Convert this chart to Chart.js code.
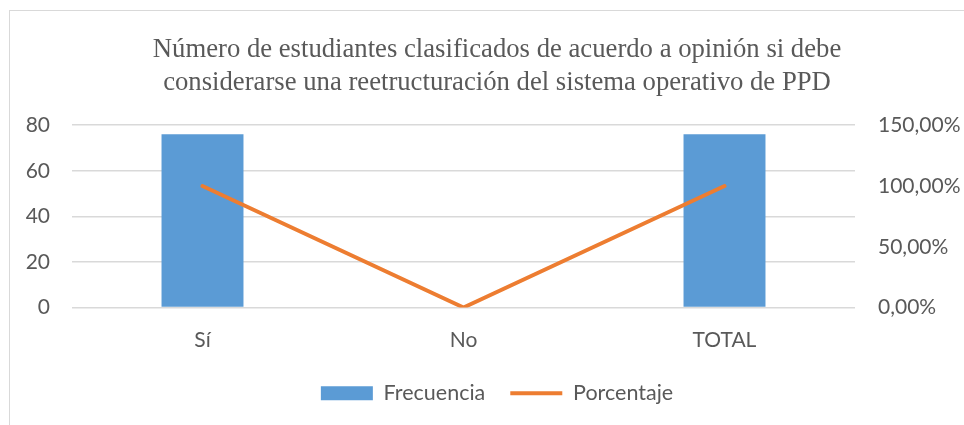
<!DOCTYPE html>
<html>
<head>
<meta charset="utf-8">
<script src="https://cdn.jsdelivr.net/npm/chart.js@4.4.0/dist/chart.umd.min.js"></script>
<style>
    html, body { margin: 0; padding: 0; background: #fff; overflow: hidden; }
    #wrap {
        position: absolute;
        left: 9px;
        top: 10px;
        width: 974px;
        height: 420px;
        border: 1px solid #D9D9D9;
        background: #fff;
    }
</style>
</head>
<body>
<div id="wrap"><canvas id="comboChart"></canvas></div>
<script>
const categories = ['Sí', 'No', 'TOTAL'];
const frecuencia = [76, 0, 76];
const porcentaje = [100, 0, 100];
const leftTicks = [0, 20, 40, 60, 80];
const rightTicks = [0, 50, 100, 150];

const titleLines = [
    'Número de estudiantes clasificados de acuerdo a opinión si debe',
    'considerarse una reetructuración del sistema operativo de PPD'
];

const colors = {
    bar: '#5B9BD5',
    line: '#ED7D31',
    grid: '#D9D9D9',
    text: '#595959'
};

Chart.defaults.font.family = 'Lato, "Open Sans", sans-serif';
Chart.defaults.color = colors.text;

function formatPercent(v) {
    return v.toFixed(2).replace('.', ',') + '%';
}

const ctx = document.getElementById('comboChart');

new Chart(ctx, {
    type: 'bar',
    data: {
        labels: categories,
        datasets: [
            {
                label: 'Frecuencia',
                data: frecuencia,
                backgroundColor: colors.bar,
                borderWidth: 0,
                categoryPercentage: 1,
                barPercentage: 0.314,
                yAxisID: 'y',
                order: 2
            },
            {
                label: 'Porcentaje',
                type: 'line',
                data: porcentaje,
                borderColor: colors.line,
                backgroundColor: colors.line,
                borderWidth: 4,
                borderCapStyle: 'round',
                pointRadius: 0,
                tension: 0,
                yAxisID: 'y1',
                order: 1
            }
        ]
    },
    options: {
        responsive: true,
        maintainAspectRatio: false,
        animation: false,
        layout: { padding: { top: 0, left: 0, right: 0, bottom: 17 } },
        plugins: {
            title: {
                display: true,
                text: titleLines,
                color: colors.text,
                font: { family: '"Liberation Serif", "Times New Roman", serif', size: 26.7, weight: 'normal', lineHeight: 1.24 },
                padding: { top: 22, bottom: 26 }
            },
            legend: {
                display: true,
                position: 'bottom',
                labels: {
                    usePointStyle: true,
                    pointStyleWidth: 52,
                    boxHeight: 14,
                    padding: 25,
                    color: colors.text,
                    font: { size: 21.5 },
                    generateLabels: function (chart) {
                        const items = Chart.defaults.plugins.legend.labels.generateLabels(chart);
                        items.sort((a, b) => a.datasetIndex - b.datasetIndex);
                        items.forEach(item => {
                            if (item.datasetIndex === 0) {
                                item.pointStyle = 'rect';
                                item.lineWidth = 0;
                            } else {
                                item.pointStyle = 'line';
                                item.lineWidth = 4;
                                item.strokeStyle = colors.line;
                            }
                        });
                        return items;
                    }
                }
            },
            tooltip: { enabled: false }
        },
        scales: {
            x: {
                grid: { display: false, drawTicks: false },
                border: { display: false },
                afterFit: axis => { axis.height = 50; },
                ticks: { padding: 20, font: { size: 21 }, color: colors.text }
            },
            y: {
                position: 'left',
                min: 0,
                max: 80,
                afterBuildTicks: axis => { axis.ticks = leftTicks.map(v => ({ value: v })); },
                afterFit: axis => { axis.width = 62; },
                grid: { color: colors.grid, lineWidth: 1.5, drawTicks: false },
                border: { display: false },
                ticks: { padding: 22, font: { size: 21 }, color: colors.text }
            },
            y1: {
                position: 'right',
                min: 0,
                max: 150,
                afterBuildTicks: axis => { axis.ticks = rightTicks.map(v => ({ value: v })); },
                afterFit: axis => { axis.width = 129; },
                grid: { display: false, drawTicks: false },
                border: { display: false },
                ticks: { padding: 23, font: { size: 21 }, color: colors.text, callback: v => formatPercent(v) }
            }
        }
    }
});
</script>
</body>
</html>
